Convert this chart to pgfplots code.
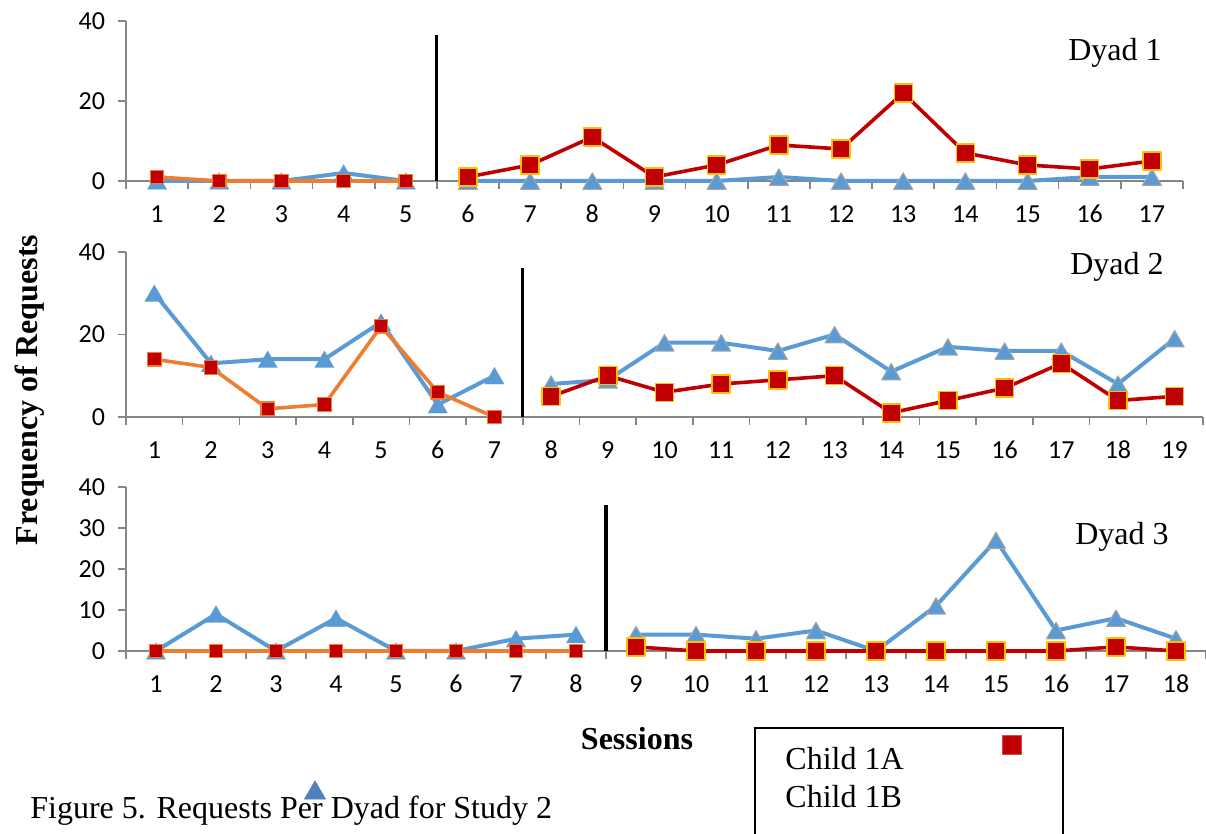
\documentclass[border=0pt]{standalone}
\usepackage{fontspec}
\setmainfont{Liberation Serif}
\newfontfamily\carlito{Carlito}
\usepackage{pgfplots}
\pgfplotsset{compat=1.18}
\definecolor{xblue}{HTML}{5B9BD5}
\definecolor{xorange}{HTML}{ED7D31}
\definecolor{xred}{HTML}{C00000}
\definecolor{xgold}{HTML}{FFC000}
\definecolor{xgrey}{HTML}{A5A5A5}
\definecolor{axgrey}{HTML}{868686}
\definecolor{legblue}{HTML}{4F81BD}
\pgfplotsset{
  panel/.style={
    scale only axis,
    anchor=south west,
    axis x line=bottom, axis y line=left,
    axis line style={-, draw=axgrey, line width=1pt},
    every outer x axis line/.append style={-},
    every outer y axis line/.append style={-},
    ymin=0, ymax=40, xmin=0.5,
    clip=false,
    major tick length=4pt,
    tick align=outside,
    tick style={draw=axgrey, line width=0.8pt},
    tick label style={font=\carlito\fontsize{13}{13}\selectfont, text=black},
    /pgf/number format/assume math mode=true,
    xticklabels={},
    extra x tick style={major tick length=0pt, tick style={draw=none}},
    xticklabel style={anchor=north, text height=9pt, text depth=0pt, yshift=-8pt},
    yticklabel style={xshift=-3pt},
  },
  bluebase/.style={color=xblue, line width=2pt, line join=round, mark=triangle*, mark size=5.6pt,
    mark options={fill=xblue, draw=xblue, line width=0.1pt, yshift=-1.4pt}},
  bluetreat/.style={color=xblue, line width=2pt, line join=round, mark=triangle*, mark size=5.5pt,
    mark options={fill=xblue, draw=xgrey, line width=0.5pt, yshift=-1.4pt}},
  orangebase/.style={color=xorange, line width=1.8pt, line join=round, mark=square*, mark size=3.4pt,
    mark options={fill=xred, draw=xorange, line width=0.6pt}},
  redtreat/.style={color=xred, line width=1.8pt, line join=round, mark=square*, mark size=4.5pt,
    mark options={fill=xred, draw=xgold, line width=0.7pt}},
  phase/.style={black, line width=1.6pt, mark=none},
}
\begin{document}
\begin{tikzpicture}
\useasboundingbox (0,0) rectangle (603pt,417pt);

% Dyad 1
\begin{axis}[panel, at={(63pt,326.5pt)}, width=528.5pt, height=80pt, xmax=17.5,
  xtick={0.5,1.5,...,17.5}, extra x ticks={1,...,17}, ytick={0,20,40}]
\addplot[phase] coordinates {(5.5,0) (5.5,36.5)};
\addplot[bluebase] coordinates {(1,0) (2,0) (3,0) (4,2) (5,0)};
\addplot[orangebase] coordinates {(1,1) (2,0) (3,0) (4,0) (5,0)};
\addplot[bluetreat] coordinates {(6,0) (7,0) (8,0) (9,0) (10,0) (11,1) (12,0) (13,0) (14,0) (15,0) (16,1) (17,1)};
\addplot[redtreat] coordinates {(6,1) (7,4) (8,11) (9,1) (10,4) (11,9) (12,8) (13,22) (14,7) (15,4) (16,3) (17,5)};
\end{axis}

% Dyad 2
\begin{axis}[panel, at={(63pt,208.5pt)}, width=538.5pt, height=82.5pt, xmax=19.5,
  xtick={0.5,1.5,...,19.5}, extra x ticks={1,...,19}, ytick={0,20,40}]
\addplot[phase] coordinates {(7.5,0) (7.5,36)};
\addplot[bluebase] coordinates {(1,30) (2,13) (3,14) (4,14) (5,23) (6,3) (7,10)};
\addplot[orangebase] coordinates {(1,14) (2,12) (3,2) (4,3) (5,22) (6,6) (7,0)};
\addplot[bluetreat] coordinates {(8,8) (9,9) (10,18) (11,18) (12,16) (13,20) (14,11) (15,17) (16,16) (17,16) (18,8) (19,19)};
\addplot[redtreat] coordinates {(8,5) (9,10) (10,6) (11,8) (12,9) (13,10) (14,1) (15,4) (16,7) (17,13) (18,4) (19,5)};
\end{axis}

% Dyad 3
\begin{axis}[panel, at={(63pt,91.5pt)}, width=540pt, height=82pt, xmax=18.5,
  xtick={0.5,1.5,...,18.5}, extra x ticks={1,...,18}, ytick={0,10,20,30,40}]
\addplot[phase] coordinates {(8.5,0) (8.5,35.5)};
\addplot[bluebase] coordinates {(1,0) (2,9) (3,0) (4,8) (5,0) (6,0) (7,3) (8,4)};
\addplot[orangebase] coordinates {(1,0) (2,0) (3,0) (4,0) (5,0) (6,0) (7,0) (8,0)};
\addplot[bluetreat] coordinates {(9,4) (10,4) (11,3) (12,5) (13,0) (14,11) (15,27) (16,5) (17,8) (18,3)};
\addplot[redtreat] coordinates {(9,1) (10,0) (11,0) (12,0) (13,0) (14,0) (15,0) (16,0) (17,1) (18,0)};
\end{axis}

% overlay in image pixels
\begin{axis}[scale only axis, anchor=south west, at={(0pt,0pt)}, width=603pt, height=417pt,
  hide axis, xmin=0, xmax=1206, ymin=0, ymax=834, y dir=reverse, clip=false]
\node[anchor=base, font=\fontsize{16}{16}\selectfont] at (axis cs:1115,61) {Dyad 1};
\node[anchor=base, font=\fontsize{16}{16}\selectfont] at (axis cs:1117,275) {Dyad 2};
\node[anchor=base, font=\fontsize{16}{16}\selectfont] at (axis cs:1122,545) {Dyad 3};
\node[anchor=base, font=\fontsize{16}{16}\selectfont\bfseries] at (axis cs:637,749) {Sessions};
\node[rotate=90, anchor=center, font=\fontsize{16}{16}\selectfont\bfseries] at (axis cs:30,390) {Frequency of Requests};
\node[anchor=base west, inner sep=0pt, font=\fontsize{16}{16}\selectfont] at (axis cs:785,769) {Child 1A};
\node[anchor=base west, inner sep=0pt, font=\fontsize{16}{16}\selectfont] at (axis cs:785,807) {Child 1B};
\node[anchor=base west, inner sep=0pt, font=\fontsize{16}{16}\selectfont] at (axis cs:30,818) {Figure 5. Requests Per Dyad for Study 2};
\draw[black, line width=1pt] (axis cs:755,860) -- (axis cs:755,728) -- (axis cs:1063,728) -- (axis cs:1063,860);
\addplot[only marks, mark=square*, mark size=4.8pt, mark options={fill=xred, draw=xred!70!white, line width=0.3pt}] coordinates {(1012,745)};
\addplot[only marks, mark=triangle*, mark size=6pt, mark options={fill=legblue, draw=legblue, yshift=-1.5pt}] coordinates {(315,790)};
\end{axis}
\end{tikzpicture}
\end{document}
